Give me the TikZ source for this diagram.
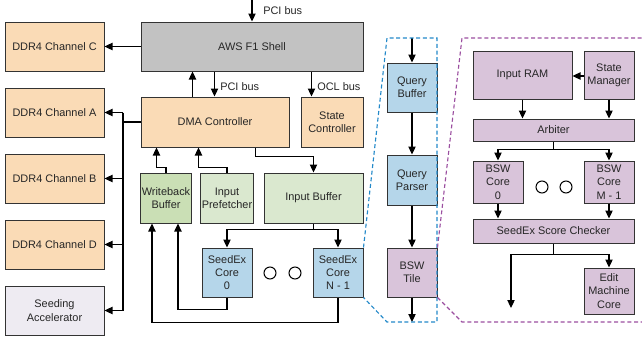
\documentclass[tikz,border=0pt]{standalone}
\usepackage{fontspec}
\setmainfont{Liberation Sans}
\usetikzlibrary{arrows.meta,calc}
\definecolor{cOrange}{HTML}{FADBB6}
\definecolor{cGray}{HTML}{C2C2C2}
\definecolor{cBlue}{HTML}{B5D6EA}
\definecolor{cGreenL}{HTML}{DAE8CF}
\definecolor{cGreenD}{HTML}{CADFB5}
\definecolor{cPurple}{HTML}{D9C4DA}
\definecolor{cSeed}{HTML}{EEEBF2}
\definecolor{cBorder}{HTML}{333333}
\definecolor{cBlueDash}{HTML}{2389C9}
\definecolor{cPurpDash}{HTML}{9B4FA0}
\begin{document}
\begin{tikzpicture}[x=0.75pt,y=-0.75pt,
  box/.style={draw=cBorder, line width=0.75pt, inner sep=1pt, align=center,
    font=\fontsize{8.2}{10}\selectfont, text=black!85},
  bw/.style={minimum width=#1*0.75pt},
  bh/.style={minimum height=#1*0.75pt},
  arr/.style={line width=0.85pt, draw=black, -{Triangle[length=6pt,width=5.5pt]}},
  ln/.style={line width=0.85pt, draw=black},
  lbl/.style={font=\fontsize{8.2}{10}\selectfont, inner sep=0pt, anchor=west, text=black!85},
  dot/.style={circle, draw=black, line width=0.75pt, minimum size=12*0.75pt, inner sep=0pt},
  bluedash/.style={draw=cBlueDash, line width=0.85pt, dash pattern=on 3pt off 2pt},
  purpdash/.style={draw=cPurpDash, line width=0.85pt, dash pattern=on 3pt off 2pt}]
\useasboundingbox (0,0) rectangle (642,343);

% left column
\node[box, fill=cOrange, bw=99, bh=49] (ddrC) at (54.5,46.5) {DDR4 Channel C};
\node[box, fill=cOrange, bw=99, bh=49] (ddrA) at (54.5,112.5) {DDR4 Channel A};
\node[box, fill=cOrange, bw=99, bh=49] (ddrB) at (54.5,178.5) {DDR4 Channel B};
\node[box, fill=cOrange, bw=99, bh=49] (ddrD) at (54.5,244.5) {DDR4 Channel D};
\node[box, fill=cSeed, bw=99, bh=49] (seed) at (54.5,310.5) {Seeding\\Accelerator};

% shell and controllers
\node[box, fill=cGray, bw=222, bh=49] (shell) at (252,46.5) {AWS F1 Shell};
\node[box, fill=cOrange, bw=148, bh=50] (dma) at (215,122) {DMA Controller};
\node[box, fill=cOrange, bw=62, bh=50] (statec) at (332,122) {State\\Controller};

\node[box, fill=cGreenD, bw=50, bh=50] (wb) at (166,198) {Writeback\\Buffer};
\node[box, fill=cGreenL, bw=50, bh=50] (ipf) at (227,198) {Input\\Prefetcher};
\node[box, fill=cGreenL, bw=99, bh=50] (ib) at (313.5,198) {Input Buffer};

\node[box, fill=cBlue, bw=50, bh=49] (core0) at (227,272.5) {SeedEx\\Core\\0};
\node[box, fill=cBlue, bw=50, bh=49] (coreN) at (338,272.5) {SeedEx\\Core\\N - 1};
\node[dot] (dotA) at (270,273) {};
\node[dot] (dotB) at (295,273) {};

% middle column
\node[box, fill=cBlue, bw=50, bh=49] (qb) at (412,87.5) {Query\\Buffer};
\node[box, fill=cBlue, bw=50, bh=50] (qp) at (412,180) {Query\\Parser};
\node[box, fill=cPurple, bw=50, bh=49] (bswt) at (412,272.5) {BSW\\Tile};

% right panel
\node[box, fill=cPurple, bw=99, bh=48] (iram) at (522.5,75) {Input RAM};
\node[box, fill=cPurple, bw=50, bh=48] (sm) at (609,75) {State\\Manager};
\node[box, fill=cPurple, bw=161, bh=22] (arb) at (553.5,130) {Arbiter};
\node[box, fill=cPurple, bw=50, bh=42] (bsw0) at (498,182) {BSW\\Core\\0};
\node[box, fill=cPurple, bw=50, bh=42] (bswM) at (609,182) {BSW\\Core\\M - 1};
\node[dot] (dotC) at (542,187) {};
\node[dot] (dotD) at (566,187) {};
\node[box, fill=cPurple, bw=161, bh=24] (chk) at (553.5,231) {SeedEx Score Checker};
\node[box, fill=cPurple, bw=50, bh=46] (emc) at (609,291) {Edit\\Machine\\Core};

% coordinates
\coordinate (pcitop) at (252,0);
\coordinate (bx) at (123,0);
\coordinate (qin) at (412,38);
\coordinate (qout) at (412,322);
\coordinate (chkout) at (511,308);
\coordinate (bTL) at (387,38);
\coordinate (bTR) at (437,38);
\coordinate (bBR) at (437,322);
\coordinate (bBL) at (387,322);
\coordinate (pTL) at (462,38);
\coordinate (pTR) at (642,38);
\coordinate (pBL) at (462,322);
\coordinate (pBR) at (642,322);

% labels
\node[lbl] (pciA) at (263,11) {PCI bus};
\node[lbl] (pciB) at (220,87) {PCI bus};
\node[lbl] (oclL) at (317,87) {OCL bus};

% connectors, left part
\draw[arr] (pcitop) -- (shell.north);
\draw[arr] (shell.west) -- (ddrC.east);
\draw[arr] ($(dma.north west)+(52,0)$) -- ($(shell.south west)+(52,0)$);
\draw[arr] ($(shell.south west)+(74,0)$) -- ($(dma.north west)+(74,0)$);
\draw[arr] ($(shell.south west)+(171,0)$) -- ($(statec.north west)+(11,0)$);

\draw[ln] (dma.west) -- (dma.west -| bx);
\draw[ln] (ddrA.east -| bx) -- (seed.east -| bx);
\draw[arr] (ddrA.east -| bx) -- (ddrA.east);
\draw[arr] (ddrB.east -| bx) -- (ddrB.east);
\draw[arr] (ddrD.east -| bx) -- (ddrD.east);
\draw[arr] (seed.east -| bx) -- (seed.east);

\draw[arr] (wb.north) -- ++(0,-5) -| ($(dma.south west)+(16,0)$);
\draw[arr] (ipf.north) -- ++(0,-5) -| ($(dma.south west)+(58,0)$);
\draw[arr] ($(dma.south west)+(115,0)$) -- ++(0,9) -| (ib.north);

\draw[ln] (ib.south) -- ++(0,6) coordinate (ibj);
\draw[arr] (ibj) -| (core0.north);
\draw[arr] (ibj) -| (coreN.north);

\draw[arr] (core0.south) -- ++(0,12) -| ($(wb.south west)+(38,0)$);
\draw[arr] (coreN.south) -- ++(0,25) -| ($(wb.south west)+(12,0)$);

% middle
\draw[arr] (qin) -- (qb.north);
\draw[arr] (qb.south) -- (qp.north);
\draw[arr] (qp.south) -- (bswt.north);
\draw[arr] (bswt.south) -- (qout);

\draw[bluedash] (coreN.north east) -- (bTL) -- (bTR) -- (bBR) -- (bBL) -- (coreN.south east);
\draw[purpdash] (bswt.north east) -- (pTL) -- (pTR);
\draw[purpdash] (bswt.south east) -- (pBL) -- (pBR);

% right
\draw[arr] (sm.west |- 0,76) -- (iram.east |- 0,76);
\draw[arr] (iram.south) -- (iram.south |- arb.north);
\draw[arr] (sm.south) -- (sm.south |- arb.north);
\draw[ln] (arb.south) -- ++(0,8) coordinate (arbj);
\draw[arr] (arbj) -| (bsw0.north);
\draw[arr] (arbj) -| (bswM.north);
\draw[arr] (bsw0.south) -- (bsw0.south |- chk.north);
\draw[arr] (bswM.south) -- (bswM.south |- chk.north);
\draw[ln] (chk.south) -- ++(0,11) coordinate (chkj);
\draw[arr] (chkj) -| (emc.north);
\draw[arr] (chkj) -| (chkout);
\end{tikzpicture}
\end{document}
